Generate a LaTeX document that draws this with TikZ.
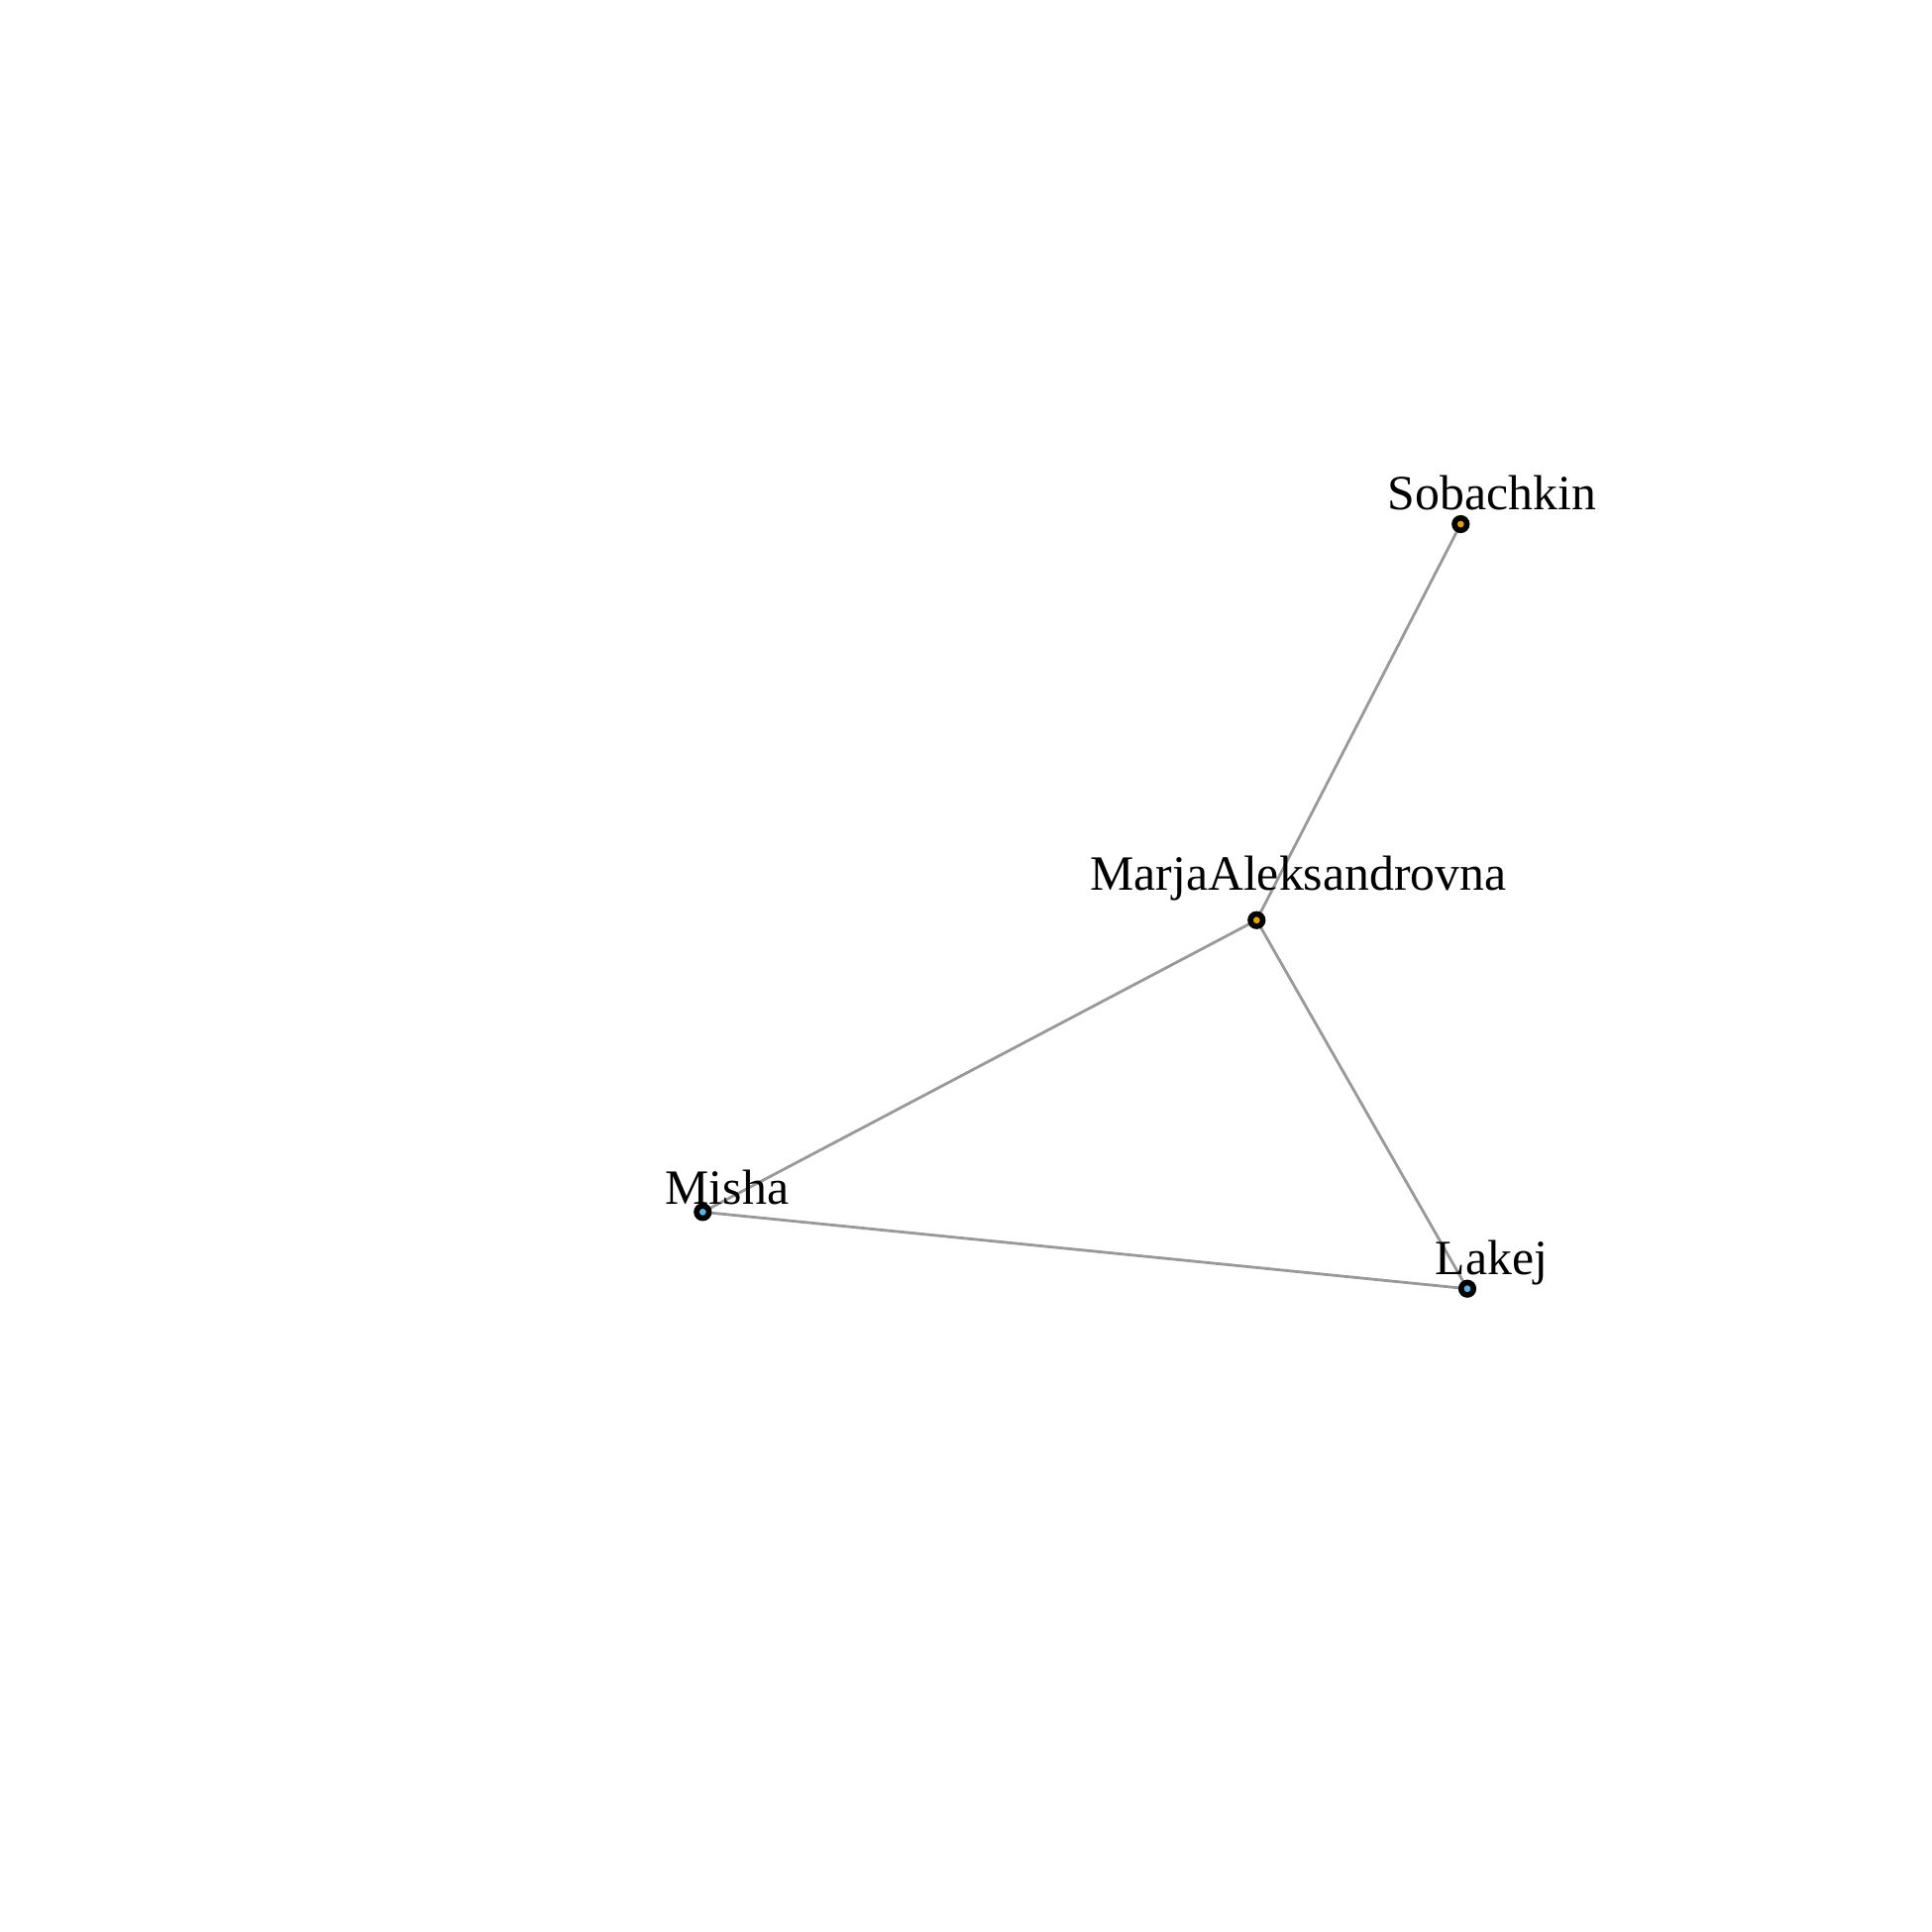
\documentclass[tikz,border=0pt]{standalone}
\usepackage{fontspec}
\setmainfont{Liberation Serif}
\begin{document}
\begin{tikzpicture}[x=0.01cm,y=-0.01cm,
  vert/.style={circle,draw=black,line width=1.6pt,inner sep=0pt,minimum size=0.125cm},
  orangev/.style={vert,fill={rgb,255:red,230;green,159;blue,0}},
  bluev/.style={vert,fill={rgb,255:red,86;green,180;blue,233}},
  lbl/.style={anchor=base,inner sep=0pt,font=\fontsize{14.15pt}{16pt}\selectfont},
  edge/.style={draw={rgb,255:red,153;green,153;blue,153},line width=0.8pt}]
\useasboundingbox[fill=white] (0,0) rectangle (1950,1950);
\coordinate (cS) at (1474.3,529);
\coordinate (cM) at (1268.3,928.7);
\coordinate (cMi) at (709.3,1223.3);
\coordinate (cL) at (1481,1300.7);
\draw[edge] (cS) -- (cM);
\draw[edge] (cM) -- (cMi);
\draw[edge] (cM) -- (cL);
\draw[edge] (cMi) -- (cL);
\node[orangev] (S) at (cS) {};
\node[orangev] (M) at (cM) {};
\node[bluev] (Mi) at (cMi) {};
\node[bluev] (L) at (cL) {};
\node[lbl] (tS) at (1506,514) {Sobachkin};
\node[lbl] (tM) at (1310.4,898.3) {MarjaAleksandrovna};
\node[lbl] (tMi) at (733.9,1215) {Misha};
\node[lbl] (tL) at (1505.3,1286.7) {Lakej};
\end{tikzpicture}
\end{document}
